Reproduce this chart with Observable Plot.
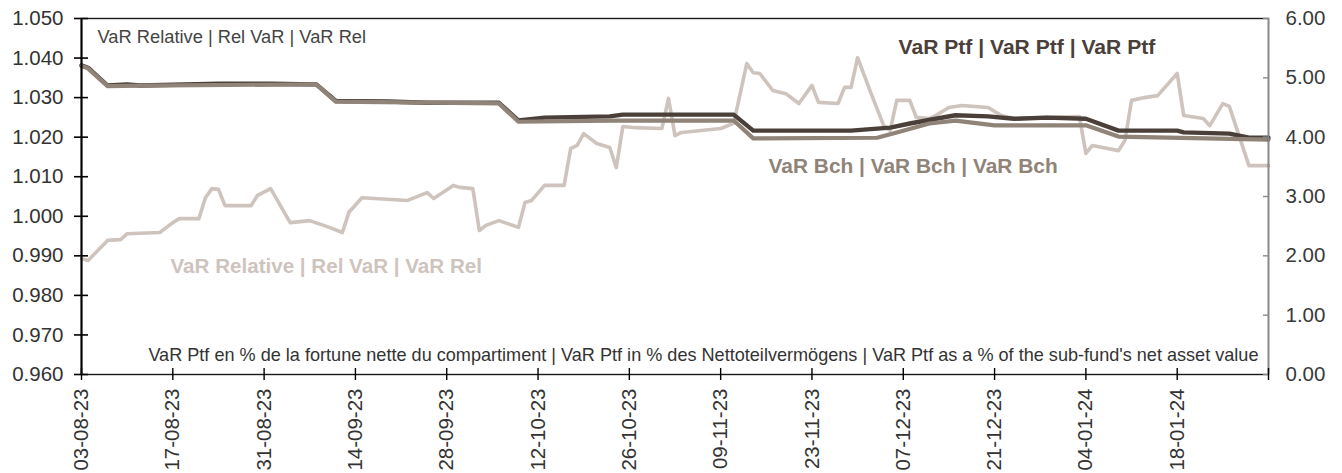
<!DOCTYPE html>
<html><head><meta charset="utf-8">
<script src="https://cdn.jsdelivr.net/npm/d3@7"></script>
<script src="https://cdn.jsdelivr.net/npm/@observablehq/plot@0.6"></script>
<style>
body{margin:0;background:#fff}
svg{font-family:"Liberation Sans",Arial,sans-serif}
</style>
</head><body><div id="chart"></div>
<script>
// VaR Relative (left axis)
const relDates = ["2023-08-03","2023-08-04","2023-08-07","2023-08-09","2023-08-10","2023-08-15","2023-08-17","2023-08-18","2023-08-21","2023-08-22","2023-08-23","2023-08-24","2023-08-25","2023-08-29","2023-08-30","2023-09-01","2023-09-04","2023-09-07","2023-09-10","2023-09-12","2023-09-13","2023-09-15","2023-09-22","2023-09-25","2023-09-26","2023-09-29","2023-09-30","2023-10-02","2023-10-03","2023-10-04","2023-10-06","2023-10-09","2023-10-10","2023-10-11","2023-10-13","2023-10-16","2023-10-17","2023-10-18","2023-10-19","2023-10-21","2023-10-23","2023-10-24","2023-10-25","2023-10-27","2023-10-31","2023-11-01","2023-11-02","2023-11-03","2023-11-09","2023-11-11","2023-11-13","2023-11-14","2023-11-15","2023-11-17","2023-11-19","2023-11-21","2023-11-23","2023-11-24","2023-11-27","2023-11-28","2023-11-29","2023-11-30","2023-12-02","2023-12-04","2023-12-05","2023-12-06","2023-12-08","2023-12-09","2023-12-11","2023-12-12","2023-12-14","2023-12-16","2023-12-20","2023-12-22","2023-12-24","2023-12-29","2024-01-03","2024-01-04","2024-01-05","2024-01-09","2024-01-10","2024-01-11","2024-01-13","2024-01-15","2024-01-18","2024-01-19","2024-01-22","2024-01-23","2024-01-25","2024-01-26","2024-01-29","2024-02-01"];
const relValues = [0.9893,0.9888,0.9939,0.9941,0.9956,0.9959,0.9984,0.9994,0.9994,1.0047,1.0070,1.0068,1.0027,1.0027,1.0053,1.0070,0.9984,0.9989,0.9972,0.9959,1.0010,1.0047,1.0040,1.0060,1.0045,1.0078,1.0073,1.0070,0.9964,0.9977,0.9989,0.9972,1.0035,1.0040,1.0078,1.0078,1.0171,1.0179,1.0209,1.0184,1.0174,1.0123,1.0227,1.0224,1.0222,1.0298,1.0204,1.0212,1.0222,1.0235,1.0386,1.0363,1.0361,1.0318,1.0310,1.0285,1.0331,1.0288,1.0285,1.0326,1.0326,1.0401,1.0313,1.0229,1.0217,1.0293,1.0293,1.0250,1.0247,1.0255,1.0275,1.0280,1.0275,1.0255,1.0247,1.0250,1.0252,1.0159,1.0179,1.0166,1.0192,1.0293,1.0300,1.0305,1.0361,1.0255,1.0247,1.0229,1.0285,1.0278,1.0128,1.0128];

// VaR Ptf (right axis, %)
const ptfDates = ["2023-08-03","2023-08-04","2023-08-07","2023-08-10","2023-08-12","2023-08-24","2023-09-01","2023-09-08","2023-09-11","2023-09-19","2023-09-25","2023-10-06","2023-10-09","2023-10-13","2023-10-23","2023-10-25","2023-11-11","2023-11-14","2023-11-29","2023-12-05","2023-12-08","2023-12-12","2023-12-15","2023-12-20","2023-12-24","2023-12-29","2024-01-04","2024-01-09","2024-01-18","2024-01-19","2024-01-26","2024-01-29","2024-02-01"];
const ptfValues = [5.21,5.17,4.87,4.89,4.87,4.90,4.90,4.89,4.61,4.60,4.58,4.58,4.28,4.33,4.35,4.38,4.38,4.11,4.11,4.16,4.23,4.31,4.37,4.35,4.31,4.33,4.31,4.11,4.11,4.08,4.06,3.99,3.99];

// VaR Bch (right axis, %)
const bchDates = ["2023-08-03","2023-08-04","2023-08-07","2023-08-12","2023-09-08","2023-09-11","2023-10-06","2023-10-09","2023-10-23","2023-11-11","2023-11-14","2023-12-03","2023-12-06","2023-12-11","2023-12-15","2023-12-21","2024-01-04","2024-01-09","2024-02-01"];
const bchValues = [5.20,5.16,4.86,4.87,4.89,4.60,4.57,4.26,4.28,4.28,3.98,3.99,4.08,4.23,4.28,4.20,4.20,4.01,3.96];

const leftTicks = [0.960,0.970,0.980,0.990,1.000,1.010,1.020,1.030,1.040,1.050];
const rightTicks = [0,1,2,3,4,5,6];
const xTickDates = ["2023-08-03","2023-08-17","2023-08-31","2023-09-14","2023-09-28","2023-10-12","2023-10-26","2023-11-09","2023-11-23","2023-12-07","2023-12-21","2024-01-04","2024-01-18","2024-02-01"];

const labelRel = "VaR Relative | Rel VaR | VaR Rel";
const labelPtf = "VaR Ptf | VaR Ptf | VaR Ptf";
const labelBch = "VaR Bch | VaR Bch | VaR Bch";
const footnote = "VaR Ptf en % de la fortune nette du compartiment | VaR Ptf in % des Nettoteilvermögens | VaR Ptf as a % of the sub-fund's net asset value";

// right axis (0..6 %) mapped onto left scale (0.96..1.05)
const toLeft = v => 0.96 + v * 0.015;
const fromLeft = y => (y - 0.96) / 0.015;

const parse = s => new Date(s + "T00:00:00Z");
const rel = relDates.map((d, i) => ({date: parse(d), v: relValues[i]}));
const ptf = ptfDates.map((d, i) => ({date: parse(d), v: ptfValues[i]}));
const bch = bchDates.map((d, i) => ({date: parse(d), v: bchValues[i]}));
const xTicks = xTickDates.map(parse);
const lastTick = xTicks[xTicks.length - 1].getTime();

const cRel = "#cec4bd", cPtf = "#4a4039", cBch = "#908378";

const chart = Plot.plot({
  width: 1342,
  height: 473,
  marginLeft: 81,
  marginRight: 74,
  marginTop: 18,
  marginBottom: 99,
  style: {fontFamily: '"Liberation Sans", Arial, sans-serif', background: "#fff"},
  x: {type: "utc", domain: [parse("2023-08-03"), parse("2024-02-01")]},
  y: {domain: [0.96, 1.05]},
  marks: [
    Plot.line(rel, {x: "date", y: "v", stroke: cRel, strokeWidth: 3.6}),
    Plot.line(ptf, {x: "date", y: d => toLeft(d.v), stroke: cPtf, strokeWidth: 4.4}),
    Plot.line(bch, {x: "date", y: d => toLeft(d.v), stroke: cBch, strokeWidth: 4.2}),
    // frame lines
    Plot.frame({stroke: "#1a1a1a", strokeWidth: 1.4}),
    Plot.ruleX([parse("2024-02-01")], {stroke: "#8a8a8a", strokeWidth: 1.4}),
    Plot.ruleX([parse("2023-08-03")], {stroke: "#000", strokeWidth: 2}),
    // left axis
    Plot.axisY(leftTicks, {anchor: "left", tickSize: 14, dx: 7, tickPadding: 11,
      tickFormat: d => d.toFixed(3), fontSize: 20.5, fill: "#333", stroke: "#000", strokeWidth: 1.6, label: null}),
    // right axis
    Plot.axisY(rightTicks.map(toLeft), {anchor: "right", tickSize: 6, dx: -6, tickPadding: 17,
      tickFormat: d => fromLeft(d).toFixed(2), fontSize: 20.5, fill: "#3a3a3a", stroke: "#8a8a8a", strokeWidth: 1.4, label: null}),
    // x axis
    Plot.axisX(xTicks, {anchor: "bottom", tickSize: 12, dy: -6, tickPadding: 8, tickRotate: -90,
      tickFormat: d => d.getTime() === lastTick ? "" : d3.utcFormat("%d-%m-%y")(d),
      fontSize: 20.5, fill: "#333", stroke: "#000", strokeWidth: 1.4, label: null}),
    // annotations
    Plot.text([labelRel], {frameAnchor: "top-left", dx: 16, dy: 19, textAnchor: "start", lineAnchor: "middle",
      fontSize: 18.3, fill: "#444"}),
    Plot.text([labelPtf], {frameAnchor: "top-left", dx: 817, dy: 29, textAnchor: "start", lineAnchor: "middle",
      fontSize: 21.1, fontWeight: "bold", fill: cPtf}),
    Plot.text([labelBch], {frameAnchor: "top-left", dx: 687, dy: 148, textAnchor: "start", lineAnchor: "middle",
      fontSize: 20.9, fontWeight: "bold", fill: cBch}),
    Plot.text([labelRel], {frameAnchor: "top-left", dx: 89, dy: 248, textAnchor: "start", lineAnchor: "middle",
      fontSize: 20.6, fontWeight: "bold", fill: cRel}),
    Plot.text([footnote], {frameAnchor: "bottom-right", dx: -10, dy: -19, textAnchor: "end", lineAnchor: "middle",
      fontSize: 18.1, fill: "#333"})
  ]
});
document.getElementById("chart").appendChild(chart);
</script>
</body></html>
